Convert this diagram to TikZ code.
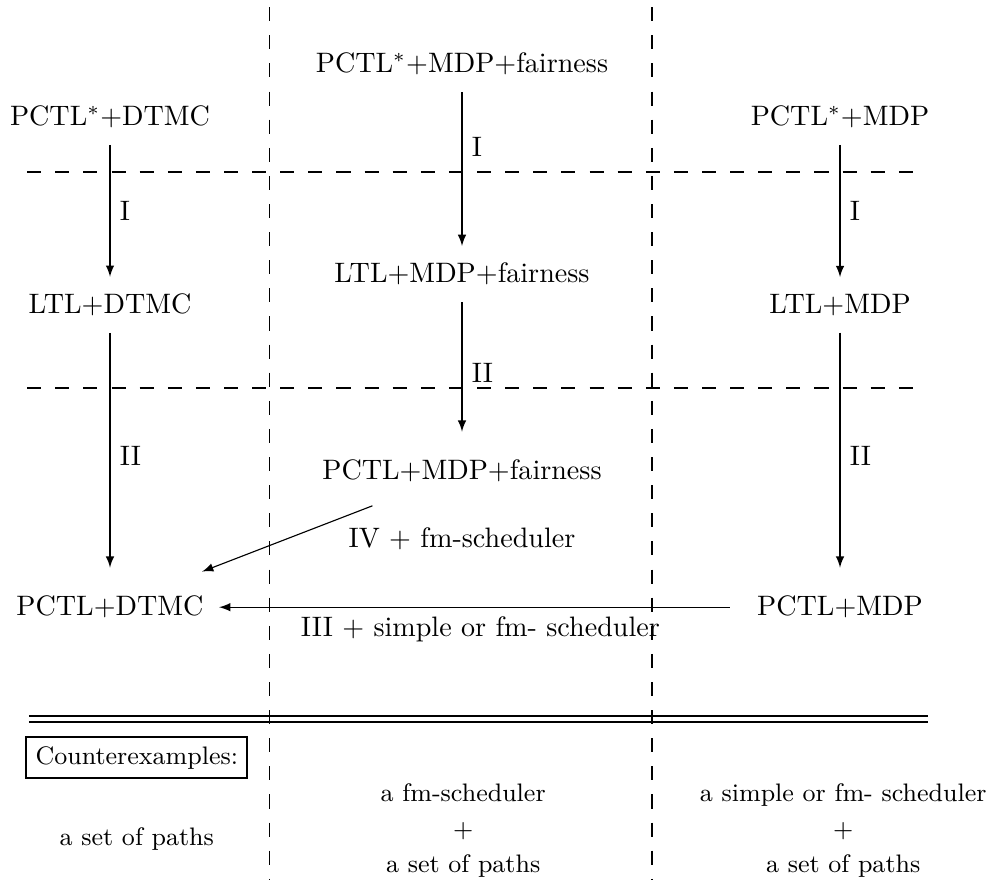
\documentclass[tikz,border=0pt]{standalone}
\usepackage{tikz}
\tikzset{divider/.style={dash pattern=on 5pt off 5pt}}
\tikzset{reduce/.style={-latex, shorten >=2.5pt, shorten <=2.5pt}}
\tikzset{rlabel/.style={right, midway}}
\tikzset{result/.style={draw, line width=0.7pt, font=\small}}
\tikzset{answer/.style={align=center, font=\small}}

\begin{document}
\begin{tikzpicture}
\useasboundingbox (0,0) rectangle (12.425,11);
% columns and rows
\draw[divider] (3.37,10.91) -- (3.37,0);
\draw[divider] (8.15,10.91) -- (8.15,0);
\draw[divider] (0.34,8.85) -- (11.5,8.85);
\draw[divider] (0.34,6.15) -- (11.5,6.15);
\draw (0.36,2.05) -- (11.6,2.05);
\draw (0.36,1.975) -- (11.6,1.975);

% DTMC
\node (starD) at (1.375,9.54) {PCTL$^*$+DTMC};
\node (ltlD) at (1.375,7.19) {LTL+DTMC};
\node (pctlD) at (1.375,3.41) {PCTL+DTMC};
% MDP with fairness
\node (starF) at (5.775,10.2) {PCTL$^*$+MDP+fairness};
\node (ltlF) at (5.775,7.575) {LTL+MDP+fairness};
\node (pctlF) at (5.775,5.11) {PCTL+MDP+fairness};
% MDP
\node (starM) at (10.5,9.54) {PCTL$^*$+MDP};
\node (ltlM) at (10.5,7.19) {LTL+MDP};
\node (pctlM) at (10.5,3.41) {PCTL+MDP};

\draw[reduce] (starD) -- (ltlD) node[rlabel] {I};
\draw[reduce, shorten >=6.6pt] (ltlD) -- (pctlD) node[rlabel] {II};
\draw[reduce] (starF) -- (ltlF) node[right, pos=0.37] {I};
\draw[reduce, shorten >=6.6pt] (ltlF) -- (pctlF) node[rlabel] {II};
\draw[reduce] (starM) -- (ltlM) node[rlabel] {I};
\draw[reduce, shorten >=6.6pt] (ltlM) -- (pctlM) node[rlabel] {II};
\draw[reduce, shorten <=13.4pt, shorten >=14.4pt] (pctlF) -- (pctlD)
  node[midway, xshift=2.2cm] {IV + fm-scheduler};
\draw[reduce, shorten <=6.3pt, shorten >=2pt] (pctlM) -- (pctlD)
  node[midway, below] {III + simple or fm- scheduler};

% counterexamples
\node[result] (cex) at (1.71,1.53) {Counterexamples:};
\node[answer] (cexD) at (1.71,0.516) {a set of paths};
\node[answer] (cexF) at (5.79,0.615) {a fm-scheduler\\[1.6pt]$+$\\[1.6pt]a set of paths};
\node[answer] (cexM) at (10.54,0.615) {a simple or fm- scheduler\\[1.6pt]$+$\\[1.6pt]a set of paths};
\end{tikzpicture}
\end{document}
